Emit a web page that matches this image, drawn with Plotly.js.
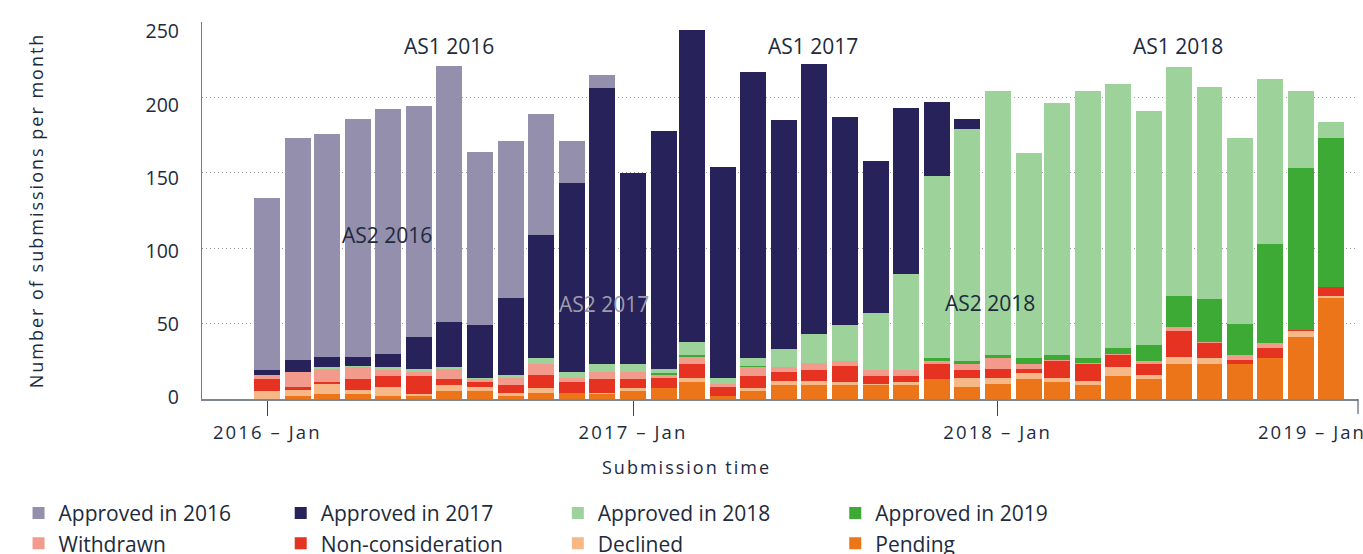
<!DOCTYPE html>
<html>
<head>
<meta charset="utf-8">
<script src="https://cdn.plot.ly/plotly-3.0.1.min.js"></script>
<style>
  html, body { margin: 0; padding: 0; background: #fff; }
  .ytitle { letter-spacing: 2.0px; }
  .xtick text { letter-spacing: 2.1px; }
  .annotation[data-index="6"] text, .annotation[data-index="7"] text { letter-spacing: 2.0px; }
  .legendpoints path { stroke-width: 3px !important; stroke-opacity: 1 !important; }
</style>
</head>
<body>
<div id="chart" style="width:1363px;height:554px;"></div>
<script>
const months = [
  '2016-01','2016-02','2016-03','2016-04','2016-05','2016-06','2016-07','2016-08','2016-09','2016-10','2016-11','2016-12',
  '2017-01','2017-02','2017-03','2017-04','2017-05','2017-06','2017-07','2017-08','2017-09','2017-10','2017-11','2017-12',
  '2018-01','2018-02','2018-03','2018-04','2018-05','2018-06','2018-07','2018-08','2018-09','2018-10','2018-11','2018-12'
];
const pending        = [0,2,3,3,2,2,5,5,2,4,4,3, 5,7,11,2,5,9,9,9,9,9,13,8, 10,13,11,9,15,13,23,23,23,27,41,67];
const declined       = [5,4,7,3,6,1,4,3,2,3,0,1, 2,0,3,0,2,3,3,2,1,2,0,6, 4,4,3,3,6,3,5,4,0,0,4,1];
const nonConsider    = [8,2,1,7,7,12,4,3,5,9,7,9, 6,7,9,6,8,6,7,11,5,4,10,5, 6,3,11,11,8,7,17,10,3,7,1,6];
const withdrawn      = [3,10,9,8,4,3,7,2,5,7,3,5, 5,2,5,2,6,3,5,3,4,4,2,4, 7,3,1,1,1,2,3,1,3,3,0,0];
const approved2019   = [0,0,0,0,0,0,0,0,0,0,0,0, 0,1,1,0,1,0,0,0,0,0,2,2, 2,4,3,3,4,11,20,28,21,66,107,99];
const approved2018   = [0,0,1,1,2,2,1,1,2,4,4,5, 5,3,9,4,5,12,19,24,38,64,121,154, 175,136,167,177,175,155,152,141,123,109,51,11];
const approved2017   = [3,8,7,6,9,21,30,35,51,82,125,183, 127,158,207,140,190,152,179,138,101,110,49,7, 0,0,0,0,0,0,0,0,0,0,0,0];
const approved2016   = [114,147,148,158,162,153,170,115,104,80,28,9, 0,0,0,0,0,0,0,0,0,0,0,0, 0,0,0,0,0,0,0,0,0,0,0,0];

const xTickVals = ['2016-01-01','2017-01-01','2018-01-01'];
const xTickText = ['2016 – Jan','2017 – Jan','2018 – Jan'];
const lastTickText = '2019 – Jan';
const yTickVals = [0,50,100,150,200,250];
const xTitle = 'Submission time';
const yTitle = 'Number of submissions per month';

const DAY = 86400000;
const barWidth = 26 * DAY;

function bar(name, y, color, legend) {
  return {
    type: 'bar', name: name, x: months, y: y,
    width: months.map(() => barWidth),
    marker: { color: color, line: { width: 0, color: color } },
    legend: legend,
    hoverinfo: 'x+y+name'
  };
}

const traces = [
  bar('Pending', pending, '#ed7519', 'legend4'),
  bar('Declined', declined, '#f6b887', 'legend3'),
  bar('Non-consideration', nonConsider, '#e53221', 'legend2'),
  bar('Withdrawn', withdrawn, '#f29b8c', 'legend'),
  bar('Approved in 2019', approved2019, '#3caa35', 'legend4'),
  bar('Approved in 2018', approved2018, '#9dd39a', 'legend3'),
  bar('Approved in 2017', approved2017, '#28225a', 'legend2'),
  bar('Approved in 2016', approved2016, '#948fac', 'legend'),
  { type: 'scatter', x: [], y: [], yaxis: 'y2', showlegend: false, hoverinfo: 'skip' }
];

const txt = '#1d2b3d';
const legendFont = { family: 'Open Sans', size: 21, color: txt };
function leg(x) {
  return { x: x, y: -0.249, xanchor: 'left', yanchor: 'top', orientation: 'v',
           traceorder: 'reversed', font: legendFont, bgcolor: 'rgba(0,0,0,0)', borderwidth: 0 };
}
const annFont = { family: 'Open Sans', size: 21, color: txt };
const tickFont = { family: 'Open Sans', size: 18.5, color: txt };

const layout = {
  width: 1363, height: 554,
  margin: { l: 202, r: 5, t: 22, b: 155, autoexpand: false },
  paper_bgcolor: '#fff', plot_bgcolor: '#fff',
  font: { family: 'Open Sans', color: txt },
  barmode: 'stack',
  xaxis: {
    type: 'date',
    range: ['2015-10-27 15:00', '2018-12-27 15:00'],
    tickvals: xTickVals, ticktext: xTickText,
    tickfont: tickFont,
    ticks: 'outside', ticklen: 15, tickwidth: 1, tickcolor: '#3b4654',
    showline: true, linecolor: '#7d8791', linewidth: 1.5,
    showgrid: false, zeroline: false,
    ticklabelstandoff: 1,
    automargin: false
  },
  yaxis: {
    range: [0, 250], tickvals: yTickVals,
    showticklabels: false, ticks: '',
    showgrid: true, gridcolor: '#9a9a9a', gridwidth: 1, griddash: '1px,3px',
    showline: true, linecolor: '#717c87', linewidth: 1.5, zeroline: false,
    automargin: false,
    title: { text: yTitle, font: { family: 'Open Sans', size: 18, color: txt }, standoff: 152 }
  },
  yaxis2: {
    overlaying: 'y', side: 'left',
    range: [-1.0, 256.6], tickvals: yTickVals,
    tickfont: { family: 'Open Sans', size: 19.5, color: txt },
    ticks: '', ticklabelstandoff: 22,
    showgrid: false, showline: false, zeroline: false, automargin: false
  },
  legend: leg(-0.1587),
  legend2: leg(0.0681),
  legend3: leg(0.3078),
  legend4: leg(0.5478),
  annotations: [
    { text: 'AS1 2016', x: '2016-07-01', y: 234.4, xref: 'x', yref: 'y', showarrow: false, font: annFont },
    { text: 'AS2 2016', x: '2016-04-30', y: 108.8, xref: 'x', yref: 'y', showarrow: false, font: annFont },
    { text: 'AS2 2017', x: '2016-12-03', y: 63, xref: 'x', yref: 'y', showarrow: false, font: { family: 'Open Sans', size: 21, color: '#9d9daa' } },
    { text: 'AS1 2017', x: '2017-06-30 12:00', y: 233.8, xref: 'x', yref: 'y', showarrow: false, font: annFont },
    { text: 'AS2 2018', x: '2017-12-24 17:00', y: 63.7, xref: 'x', yref: 'y', showarrow: false, font: annFont },
    { text: 'AS1 2018', x: '2018-06-30 17:00', y: 234, xref: 'x', yref: 'y', showarrow: false, font: annFont },
    { text: lastTickText, x: 1, y: -0.0875, xref: 'paper', yref: 'paper', xanchor: 'right', yanchor: 'middle',
      xshift: 0, showarrow: false, font: tickFont },
    { text: xTitle, x: 0.4187, y: -0.18, xref: 'paper', yref: 'paper', xanchor: 'center', yanchor: 'middle',
      showarrow: false, font: { family: 'Open Sans', size: 18, color: txt } }
  ],
  shapes: [
    { type: 'line', xref: 'paper', yref: 'paper', x0: 1, x1: 1, y0: 0, y1: -0.0398,
      line: { color: '#3b4654', width: 1 } }
  ],
  showlegend: true
};

Plotly.newPlot('chart', traces, layout, { displayModeBar: false, staticPlot: true });
</script>
</body>
</html>
